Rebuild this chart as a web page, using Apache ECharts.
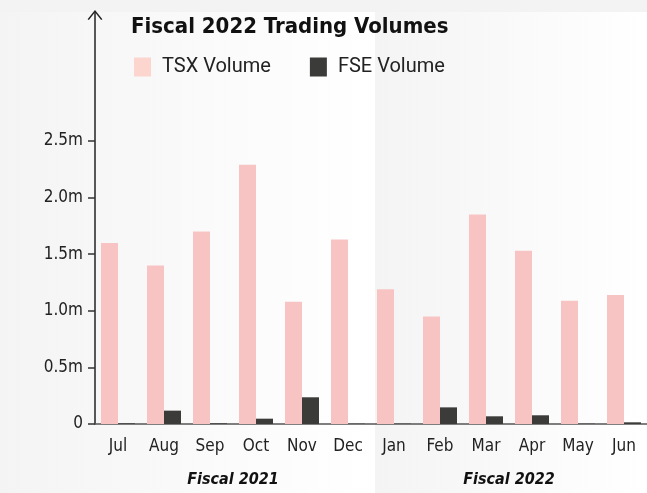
<!DOCTYPE html>
<html>
<head>
<meta charset="utf-8">
<script src="https://cdn.jsdelivr.net/npm/echarts@6/dist/echarts.min.js"></script>
<style>
  html, body { margin: 0; padding: 0; background: #f3f3f3; }
  #main { width: 647px; height: 493px; }
</style>
</head>
<body>
<div id="main"></div>
<script>
// data
const months = ['Jul', 'Aug', 'Sep', 'Oct', 'Nov', 'Dec', 'Jan', 'Feb', 'Mar', 'Apr', 'May', 'Jun']
const fiscalYears = ['Fiscal 2021', 'Fiscal 2022']
const tsxVolume = [1600000, 1400000, 1700000, 2290000, 1080000, 1630000, 1190000, 950000, 1850000, 1530000, 1090000, 1140000]
const fseVolume = [6000, 118000, 6000, 47000, 236000, 3000, 3000, 147000, 68000, 77000, 3000, 15000]
const yTicks = [0, 500000, 1000000, 1500000, 2000000, 2500000]

const condensed = "'Liberation Sans Narrow', 'DejaVu Sans Condensed', Roboto, sans-serif"
const yMax = 3640000
const gridTop = 12
const gridBottom = 69
const plotHeight = 493 - gridTop - gridBottom
// second grid only carries the tick marks for 0 .. 2.5m
const tickTop = gridTop + plotHeight * (1 - yTicks[yTicks.length - 1] / yMax)

const myChart = echarts.init(document.getElementById('main'))

// background panels, one per fiscal year
const panel = (x, w) => ({
    type: 'rect',
    z: -10,
    silent: true,
    shape: { x: x, y: 12, width: w, height: 481 },
    style: {
        fill: new echarts.graphic.LinearGradient(0, 0, 1, 0, [
            { offset: 0, color: '#f4f4f4' },
            { offset: 1, color: '#ffffff' }
        ])
    }
})

myChart.setOption({
    backgroundColor: '#f3f3f3',
    graphic: [panel(0, 375), panel(375, 272)],
    title: {
        text: 'Fiscal 2022 Trading Volumes',
        left: 126,
        top: 11,
        textStyle: { fontFamily: condensed, fontWeight: 'bold', fontSize: 22, color: '#111' }
    },
    legend: {
        left: 129,
        top: 52,
        itemWidth: 17,
        itemHeight: 19,
        itemGap: 39,
        icon: 'rect',
        textStyle: { fontFamily: 'Roboto, sans-serif', fontSize: 20, color: '#222', padding: [0, 0, 0, 6] },
        data: [
            { name: 'TSX Volume', itemStyle: { color: '#fdd5cf' } },
            { name: 'FSE Volume' }
        ]
    },
    grid: [
        { left: 95, right: -5, top: gridTop, bottom: gridBottom },
        { left: 95, right: -5, top: tickTop, bottom: gridBottom }
    ],
    xAxis: [
        {
            type: 'category',
            data: months,
            axisLine: { lineStyle: { color: '#555', width: 1.5 } },
            axisTick: { show: false },
            axisLabel: { fontFamily: condensed, fontSize: 17, color: '#222', margin: 14 }
        },
        {
            type: 'category',
            data: fiscalYears,
            position: 'bottom',
            offset: 40,
            axisLine: { show: false },
            axisTick: { show: false },
            axisLabel: { fontFamily: condensed, fontSize: 16, fontWeight: 'bold', fontStyle: 'italic', color: '#111' }
        },
        { type: 'category', gridIndex: 1, data: months, show: false }
    ],
    yAxis: [
        {
            type: 'value',
            min: 0,
            max: yMax,
            interval: 500000,
            splitLine: { show: false },
            axisLine: {
                show: true,
                lineStyle: { color: '#222', width: 1.5 },
                symbol: ['none', 'path://M0,10 L8,0 L16,10 L14.6,10.8 L8,2.4 L1.4,10.8 Z'],
                symbolSize: [16, 10],
                symbolOffset: [0, -3]
            },
            axisTick: { show: false },
            axisLabel: {
                fontFamily: condensed,
                fontSize: 17,
                color: '#222',
                margin: 12,
                customValues: yTicks,
                formatter: v => v === 0 ? '0' : (v / 1e6).toFixed(1) + 'm'
            }
        },
        {
            type: 'value',
            gridIndex: 1,
            min: 0,
            max: yTicks[yTicks.length - 1],
            interval: 500000,
            splitLine: { show: false },
            axisLine: { show: false },
            axisLabel: { show: false },
            axisTick: { show: true, length: 7, lineStyle: { color: '#333', width: 1.5 } }
        }
    ],
    series: [
        {
            name: 'TSX Volume',
            type: 'bar',
            data: tsxVolume,
            barWidth: 17,
            barGap: '0%',
            itemStyle: { color: '#f7c3c3' }
        },
        {
            name: 'FSE Volume',
            type: 'bar',
            data: fseVolume,
            barWidth: 17,
            itemStyle: { color: '#3b3b39' }
        }
    ]
})
</script>
</body>
</html>
